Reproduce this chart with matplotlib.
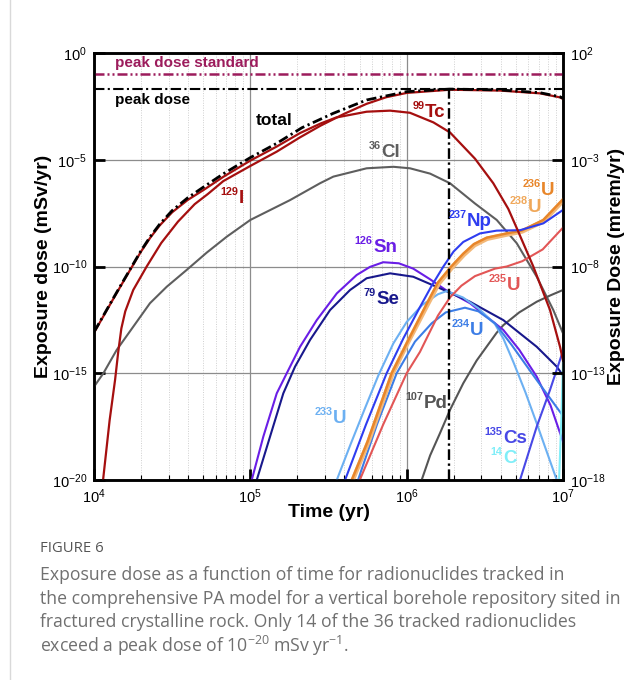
import numpy as np
import matplotlib
matplotlib.use("Agg")
import matplotlib.pyplot as plt
from matplotlib.lines import Line2D
from matplotlib.ticker import LogLocator, NullLocator, FixedLocator, FixedFormatter

# ---------------- data (log10 time [yr], log10 dose [mSv/yr]) ----------------
total_lt = [4.0, 4.06, 4.12, 4.18, 4.24, 4.30, 4.36, 4.42, 4.5, 4.6, 4.7, 4.827, 5.0, 5.169, 5.33, 5.529, 5.744, 6.0, 6.277, 6.597, 6.853, 6.981, 7.0]
total_ld = [-13.07, -12.3, -11.53, -10.77, -10.02, -9.27, -8.6, -8.02, -7.38, -6.78, -6.28, -5.66, -4.90, -4.23, -3.5, -2.83, -2.20, -1.81, -1.69, -1.73, -1.86, -2.05, -2.12]

tc99_lt = [4.0, 4.06, 4.12, 4.18, 4.24, 4.30, 4.36, 4.42, 4.5, 4.6, 4.7, 4.827, 5.0, 5.169, 5.318, 5.45, 5.55, 5.744, 5.894, 6.021, 6.171, 6.277, 6.437, 6.554, 6.65, 6.704, 6.81, 6.917, 6.981, 7.0]
tc99_ld = [-13.1, -12.33, -11.56, -10.8, -10.05, -9.31, -8.65, -8.08, -7.46, -6.88, -6.42, -5.80, -5.04, -4.38, -3.75, -3.3, -3.02, -2.75, -2.70, -2.80, -3.25, -3.72, -4.95, -6.1, -7.3, -8.2, -10.0, -12.04, -13.76, -14.4]

i129_lt = [4.058, 4.10, 4.135, 4.155, 4.175, 4.20, 4.251, 4.337, 4.43, 4.537, 4.644, 4.729, 4.827, 5.0, 5.169, 5.318, 5.45, 5.6, 5.744, 5.87, 6.0, 6.277, 6.597, 6.853, 6.981, 7.0]
i129_ld = [-20.0, -17.2, -15.3, -14.0, -12.9, -12.1, -11.1, -10.0, -8.9, -7.9, -7.08, -6.6, -6.0, -5.29, -4.62, -3.95, -3.4, -2.85, -2.38, -2.07, -1.87, -1.72, -1.76, -1.89, -2.08, -2.15]

cl36_lt = [4.0, 4.06, 4.145, 4.251, 4.358, 4.465, 4.593, 4.721, 4.85, 5.0, 5.254, 5.446, 5.531, 5.744, 5.915, 6.021, 6.15, 6.277, 6.437, 6.576, 6.704, 6.832, 6.938, 7.0]
cl36_ld = [-15.63, -15.0, -13.91, -12.82, -11.72, -10.95, -10.16, -9.35, -8.6, -7.82, -6.89, -6.10, -5.79, -5.40, -5.33, -5.40, -5.65, -6.10, -7.05, -7.82, -8.91, -10.48, -12.04, -13.13]

sn126_lt = [5.009, 5.083, 5.169, 5.233, 5.318, 5.425, 5.553, 5.68, 5.765, 5.85, 5.95, 6.042, 6.15, 6.25, 6.405, 6.512, 6.618, 6.72, 6.832, 6.92, 7.0]
sn126_ld = [-20.0, -17.97, -15.94, -15.0, -13.76, -12.51, -11.26, -10.4, -10.02, -9.8, -9.85, -10.1, -10.6, -11.1, -11.72, -12.35, -12.97, -13.9, -15.16, -16.5, -18.2]

se79_lt = [5.041, 5.126, 5.211, 5.286, 5.382, 5.51, 5.638, 5.744, 5.894, 6.042, 6.213, 6.405, 6.618, 6.832, 6.96, 7.0]
se79_ld = [-20.0, -17.97, -15.94, -14.69, -13.44, -12.04, -11.1, -10.55, -10.32, -10.48, -11.02, -11.65, -12.51, -13.76, -14.69, -15.1]

np237_lt = [5.606, 5.74, 5.872, 5.98, 6.085, 6.16, 6.235, 6.30, 6.362, 6.469, 6.576, 6.725, 6.874, 7.0]
np237_ld = [-20.0, -17.4, -15.0, -13.35, -11.9, -10.9, -10.0, -9.3, -8.85, -8.45, -8.32, -8.30, -7.98, -7.35]

u236_lt = [5.649, 5.75, 5.904, 6.0, 6.128, 6.2, 6.285, 6.362, 6.43, 6.512, 6.640, 6.735, 6.874, 7.0]
u236_ld = [-20.0, -18.2, -15.0, -13.6, -11.75, -10.75, -10.0, -9.4, -8.95, -8.65, -8.45, -8.32, -7.82, -6.85]

u238_lt = [5.655, 5.756, 5.91, 6.005, 6.133, 6.205, 6.29, 6.366, 6.434, 6.515, 6.643, 6.738, 6.876, 7.0]
u238_ld = [-20.0, -18.2, -15.0, -13.6, -11.8, -10.8, -10.05, -9.45, -9.0, -8.7, -8.5, -8.36, -7.88, -6.92]

u235_lt = [5.70, 5.85, 6.0, 6.085, 6.149, 6.2, 6.277, 6.35, 6.437, 6.565, 6.64, 6.74, 6.87, 7.0]
u235_ld = [-20.0, -17.4, -15.0, -14.0, -13.05, -12.3, -11.45, -10.9, -10.45, -10.1, -10.0, -9.75, -9.2, -8.18]

u234_lt = [5.689, 5.81, 5.936, 6.053, 6.16, 6.25, 6.373, 6.459, 6.565, 6.672, 6.832, 6.92, 7.0]
u234_ld = [-20.0, -17.4, -15.0, -13.52, -12.66, -12.15, -11.93, -12.1, -12.66, -13.68, -15.32, -16.2, -17.0]

u233_lt = [5.553, 5.64, 5.73, 5.819, 5.915, 6.0, 6.1, 6.2, 6.256, 6.36, 6.459, 6.565, 6.62, 6.684, 6.76, 6.832, 6.96]
u233_ld = [-20.0, -18.35, -16.7, -15.1, -13.6, -12.6, -11.8, -11.3, -11.15, -11.45, -11.96, -12.7, -13.4, -14.5, -15.9, -17.35, -20.0]

pd107_lt = [6.096, 6.15, 6.213, 6.277, 6.362, 6.448, 6.576, 6.618, 6.72, 6.832, 6.92, 7.0]
pd107_ld = [-20.0, -18.85, -17.81, -16.72, -15.47, -14.4, -13.1, -12.75, -12.15, -11.65, -11.35, -11.1]

cs135_lt = [6.725, 6.832, 6.917, 7.0]
cs135_ld = [-20.0, -17.5, -15.78, -13.95]

c14_lt = [6.975, 6.99, 7.0]
c14_ld = [-20.0, -17.0, -14.5]

peak_dose_standard = 0.1   # mSv/yr
peak_dose = 0.02           # mSv/yr
peak_time = 1.87e6         # yr

x_ticks = [1e4, 1e5, 1e6, 1e7]
x_labels = [r"$10^{4}$", r"$10^{5}$", r"$10^{6}$", r"$10^{7}$"]
yl_ticks = [1e-20, 1e-15, 1e-10, 1e-5, 1e0]
yl_labels = [r"$10^{-20}$", r"$10^{-15}$", r"$10^{-10}$", r"$10^{-5}$", r"$10^{0}$"]
yr_ticks = [1e-18, 1e-13, 1e-8, 1e-3, 1e2]
yr_labels = [r"$10^{-18}$", r"$10^{-13}$", r"$10^{-8}$", r"$10^{-3}$", r"$10^{2}$"]

# label anchors (log10 t, log10 dose) : junction between mass number and symbol
labels = [
    ("99", "Tc", 6.117, -3.0, "#a50f0f"),
    ("36", "Cl", 5.836, -4.87, "#5e5e5e"),
    ("129", "I", 4.924, -7.03, "#a50f0f"),
    ("237", "Np", 6.386, -8.10, "#2e3df0"),
    ("236", "U", 6.859, -6.65, "#e8862a"),
    ("238", "U", 6.776, -7.45, "#f0a85a"),
    ("126", "Sn", 5.785, -9.32, "#6a1ee6"),
    ("79", "Se", 5.804, -11.76, "#18188c"),
    ("235", "U", 6.642, -11.10, "#e25656"),
    ("234", "U", 6.405, -13.21, "#3c7de6"),
    ("233", "U", 5.529, -17.33, "#6cb0f2"),
    ("107", "Pd", 6.111, -16.63, "#555555"),
    ("135", "Cs", 6.616, -18.27, "#4848e6"),
    ("14", "C", 6.616, -19.20, "#80eef8"),
]

caption_lines = [
    "Exposure dose as a function of time for radionuclides tracked in",
    "the comprehensive PA model for a vertical borehole repository sited in",
    "fractured crystalline rock. Only 14 of the 36 tracked radionuclides",
    "exceed a peak dose of 10$^{-20}$ mSv yr$^{-1}$.",
]

# ---------------- style ----------------
plt.rcParams['font.family'] = ['Liberation Sans', 'DejaVu Sans']
plt.rcParams['mathtext.fontset'] = 'custom'
plt.rcParams['mathtext.rm'] = 'Liberation Sans'
plt.rcParams['mathtext.it'] = 'Liberation Sans:italic'
plt.rcParams['mathtext.bf'] = 'Liberation Sans:bold'
plt.rcParams['mathtext.default'] = 'regular'

W, H = 641, 680
fig = plt.figure(figsize=(W / 100, H / 100), dpi=100)
ax = fig.add_axes([94 / W, 1 - 480 / H, (563 - 94) / W, (480 - 53) / H])
ax.set_xscale('log')
ax.set_yscale('log')
ax.set_xlim(1e4, 1e7)
ax.set_ylim(1e-20, 1)

ax.xaxis.set_major_locator(FixedLocator(x_ticks))
ax.xaxis.set_major_formatter(FixedFormatter(x_labels))
ax.xaxis.set_minor_locator(LogLocator(base=10, subs=np.arange(2, 10)))
ax.yaxis.set_major_locator(FixedLocator(yl_ticks))
ax.yaxis.set_major_formatter(FixedFormatter(yl_labels))
ax.yaxis.set_minor_locator(NullLocator())
ax.xaxis.set_minor_formatter(FixedFormatter([]))

ax.grid(which='major', axis='both', color='#8c8c8c', lw=0.9, ls='-', zorder=0)
ax.grid(which='minor', axis='x', color='#cfcfcf', lw=0.7, ls=(0, (1, 1.5)), zorder=0)
ax.set_axisbelow(True)

ax.tick_params(which='major', direction='in', length=8, width=2, top=False, right=False,
               labelsize=10.5, pad=5, color='black')
ax.tick_params(which='minor', axis='x', direction='in', length=3.5, width=0.8, top=False)
for s in ax.spines.values():
    s.set_linewidth(1.8)

def lp(lt, ld):
    return np.power(10.0, lt), np.power(10.0, ld)

lw = 1.5
ax.plot(*lp(cl36_lt, cl36_ld), color='#5e5e5e', lw=lw, zorder=3)
ax.plot(*lp(pd107_lt, pd107_ld), color='#555555', lw=lw, zorder=3)
ax.plot(*lp(sn126_lt, sn126_ld), color='#6a1ee6', lw=lw, zorder=3)
ax.plot(*lp(se79_lt, se79_ld), color='#18188c', lw=lw, zorder=3)
ax.plot(*lp(u233_lt, u233_ld), color='#6cb0f2', lw=lw, zorder=3)
ax.plot(*lp(u234_lt, u234_ld), color='#3c7de6', lw=lw, zorder=3)
ax.plot(*lp(u235_lt, u235_ld), color='#e25656', lw=lw, zorder=3)
ax.plot(*lp(u238_lt, u238_ld), color='#f3b878', lw=3.2, zorder=3)
ax.plot(*lp(u236_lt, u236_ld), color='#e8862a', lw=1.8, zorder=3)
ax.plot(*lp(np237_lt, np237_ld), color='#2e3df0', lw=lw, zorder=3)
ax.plot(*lp(c14_lt, c14_ld), color='#80eef8', lw=lw, zorder=3)
ax.plot(*lp(cs135_lt, cs135_ld), color='#4848e6', lw=lw, zorder=3)
ax.plot(*lp(tc99_lt, tc99_ld), color='#a50f0f', lw=1.6, zorder=4)
ax.plot(*lp(i129_lt, i129_ld), color='#a50f0f', lw=1.6, zorder=4)
ax.plot(*lp(total_lt, total_ld), color='black', lw=2.0, ls=(0, (3.6, 1.3, 0.8, 1.3)), zorder=5)

ax.axhline(peak_dose_standard, color='#9c1c5c', lw=1.8, ls=(0, (4.0, 1.2, 0.8, 1.2, 0.8, 1.2)), zorder=5)
ax.axhline(peak_dose, color='black', lw=1.5, ls=(0, (5.0, 1.6, 1.0, 1.6)), zorder=5)
ax.plot([peak_time, peak_time], [1e-20, peak_dose], color='black', lw=1.7,
        ls=(0, (4.5, 1.5, 1.0, 1.5)), zorder=5)

# right axis (mrem/yr)
ax2 = ax.twinx()
ax2.set_yscale('log')
ax2.set_ylim(1e-18, 1e2)
ax2.yaxis.set_major_locator(FixedLocator(yr_ticks))
ax2.yaxis.set_major_formatter(FixedFormatter(yr_labels))
ax2.yaxis.set_minor_locator(NullLocator())
ax2.tick_params(which='major', direction='in', length=8, width=2, labelsize=10.5, pad=5)
for s in ax2.spines.values():
    s.set_linewidth(1.8)

# labels
bold = dict(fontweight='bold')
ax.text(10 ** 4.134, 10 ** -0.656, "peak dose standard", color='#9c1c5c', fontsize=11, ha='left',
        va='baseline', zorder=6, **bold)
ax.text(10 ** 4.134, 10 ** -2.39, "peak dose", color='black', fontsize=11, ha='left',
        va='baseline', zorder=6, **bold)
ax.text(10 ** 5.036, 10 ** -3.37, "total", color='black', fontsize=12.5, ha='left',
        va='baseline', zorder=6, **bold)
for mass, sym, lt, ld, col in labels:
    x, y = 10 ** lt, 10 ** ld
    ax.text(x, y, sym, color=col, fontsize=13.5, ha='left', va='baseline', zorder=6, **bold)
    ax.annotate(mass, xy=(x, y), xytext=(-0.3, 5.8), textcoords='offset points', color=col,
                fontsize=7.8, ha='right', va='baseline', zorder=6, **bold)

ax.set_xlabel("Time (yr)", fontsize=14, fontweight='bold', labelpad=-1)
ax.set_ylabel("Exposure dose (mSv/yr)", fontsize=14, fontweight='bold', labelpad=0)
ax2.set_ylabel("Exposure Dose (mrem/yr)", fontsize=14, fontweight='bold', labelpad=2)

# figure border line and caption
fig.add_artist(Line2D([10 / W, 10 / W], [0, 1], color='#d9d9d9', lw=1.0))
fig.text(40 / W, 1 - 548 / H, "FIGURE 6", fontsize=10.7, color='#555555', va='center',
         ha='left', family=['Open Sans', 'DejaVu Sans'])
for i, line in enumerate(caption_lines):
    fig.text(40 / W, 1 - (575 + 23.5 * i) / H, line, fontsize=12.7, color='#707070',
             va='center', ha='left', family=['Open Sans', 'DejaVu Sans'])

fig.savefig("out.png", dpi=100)
